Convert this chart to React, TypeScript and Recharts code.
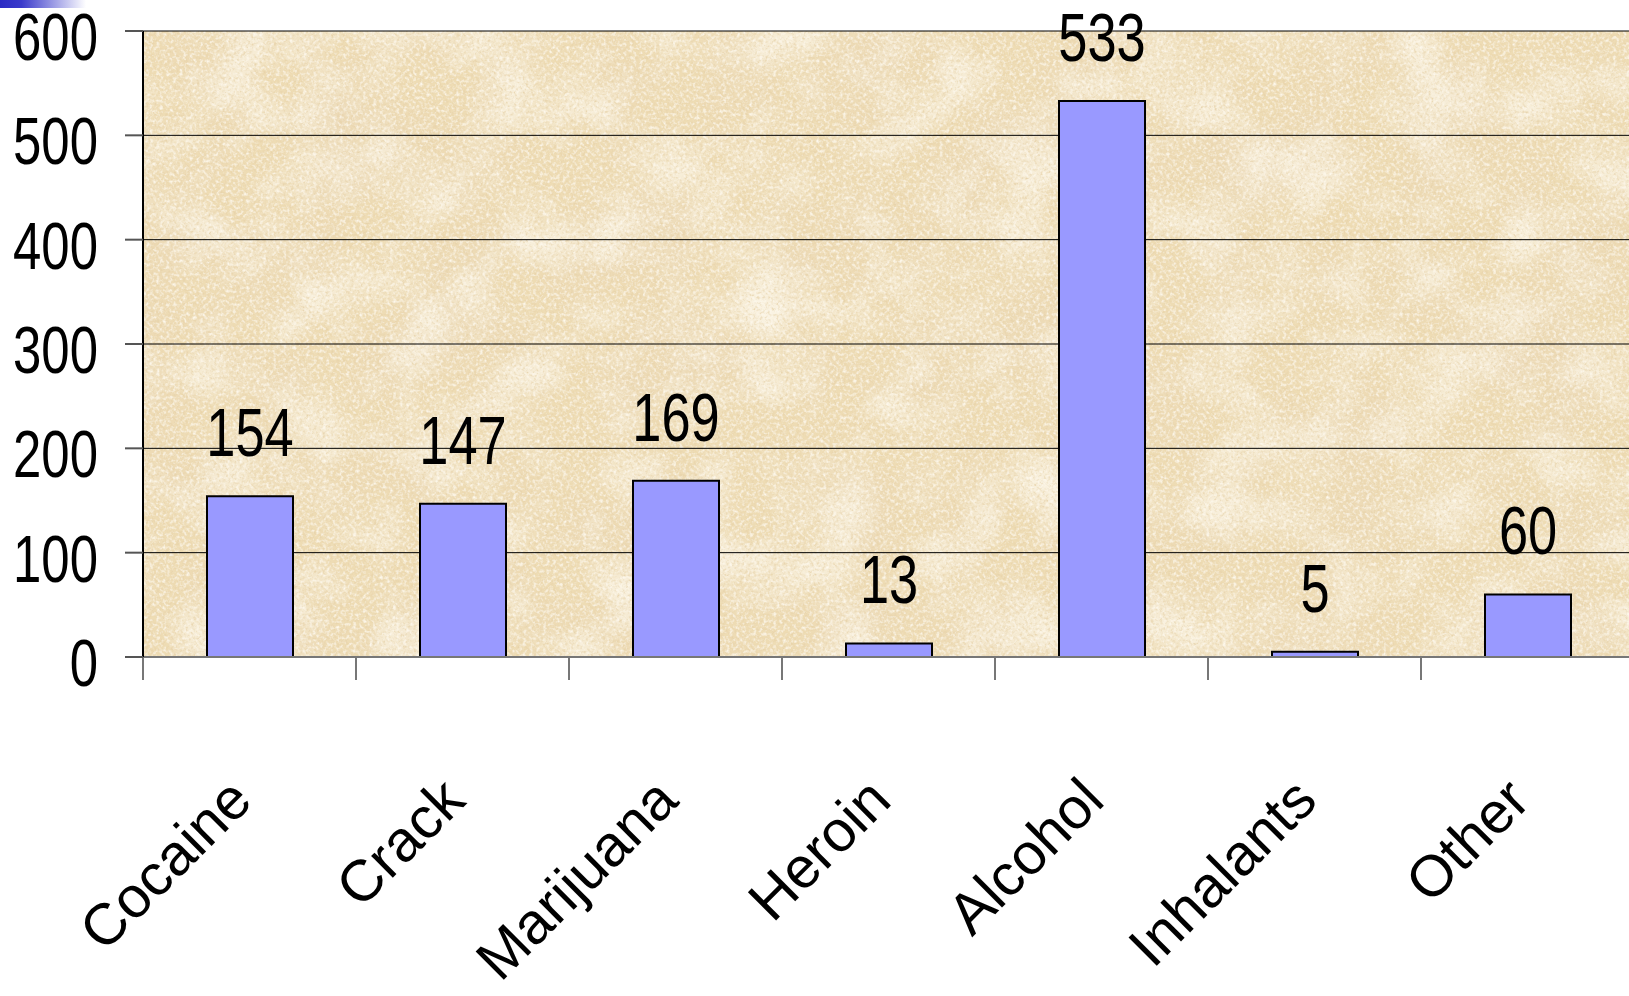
import React from 'react';
import { BarChart, Bar, XAxis, YAxis, CartesianGrid, LabelList } from 'recharts';

const categories = ['Cocaine', 'Crack', 'Marijuana', 'Heroin', 'Alcohol', 'Inhalants', 'Other'];
const values = [154, 147, 169, 13, 533, 5, 60];
const yTicks = [0, 100, 200, 300, 400, 500, 600];
const edgeTicks = [0, 1, 2, 3, 4, 5, 6, 7];

const data = categories.map((name, i) => ({ name, value: values[i], pos: i + 0.5 }));

const NUM_FONT = 'Liberation Sans, Arial, sans-serif';

const YTick = (props: any) => {
  const { x, y, payload } = props;
  return (
    <text
      transform={`translate(${x - 27}, ${y + 29}) scale(0.76, 1)`}
      textAnchor="end"
      fontFamily={NUM_FONT}
      fontSize={67}
      fill="#000"
    >
      {payload.value}
    </text>
  );
};

const XTick = (props: any) => {
  const { x, y, payload } = props;
  return (
    <text
      transform={`translate(${x + 5}, ${y + 145}) rotate(-45)`}
      textAnchor="end"
      fontFamily={NUM_FONT}
      fontSize={58}
      fill="#000"
    >
      {payload.value}
    </text>
  );
};

const EmptyTick = () => <g />;

const ValueLabel = (props: any) => {
  const { x, y, width, value } = props;
  return (
    <text
      transform={`translate(${x + width / 2}, ${y - 40}) scale(0.77, 1)`}
      textAnchor="middle"
      fontFamily={NUM_FONT}
      fontSize={68}
      fill="#000"
    >
      {value}
    </text>
  );
};

export default function App() {
  return (
    <div style={{ position: 'absolute', left: 0, top: 0, width: 1629, height: 996, overflow: 'hidden', background: '#fff' }}>
      <div
        style={{
          position: 'absolute',
          left: 0,
          top: 0,
          width: 86,
          height: 8,
          zIndex: 2,
          background: 'linear-gradient(to right, #2b2bc4 0%, #3a3acb 25%, #ffffff 100%)',
        }}
      />
      <BarChart
        width={1634}
        height={996}
        data={data}
        margin={{ top: 31, right: 0, bottom: 0, left: 0 }}
        style={{ position: 'absolute', left: 0, top: 0 }}
      >
        <defs>
          <filter id="grain" x="0" y="0" width="100%" height="100%">
            <feTurbulence type="fractalNoise" baseFrequency="0.35" numOctaves="3" seed="7" result="fine" />
            <feColorMatrix
              in="fine"
              type="matrix"
              values="0 0 0 0 0.80  0 0 0 0 0.65  0 0 0 0 0.40  2.2 0 0 0 -1.0"
              result="darkSpeck"
            />
            <feTurbulence type="fractalNoise" baseFrequency="0.3" numOctaves="2" seed="21" result="fine2" />
            <feColorMatrix
              in="fine2"
              type="matrix"
              values="0 0 0 0 0.99  0 0 0 0 0.95  0 0 0 0 0.86  2.2 0 0 0 -1.0"
              result="lightSpeck"
            />
            <feTurbulence type="fractalNoise" baseFrequency="0.01" numOctaves="4" seed="3" result="blotch" />
            <feColorMatrix
              in="blotch"
              type="matrix"
              values="0 0 0 0 0.84  0 0 0 0 0.70  0 0 0 0 0.48  1.8 0 0 0 -0.75"
              result="blotchC"
            />
            <feTurbulence type="fractalNoise" baseFrequency="0.015" numOctaves="3" seed="11" result="blotch2" />
            <feColorMatrix
              in="blotch2"
              type="matrix"
              values="0 0 0 0 0.97  0 0 0 0 0.92  0 0 0 0 0.80  1.8 0 0 0 -0.75"
              result="blotchL"
            />
            <feMerge>
              <feMergeNode in="SourceGraphic" />
              <feMergeNode in="blotchC" />
              <feMergeNode in="blotchL" />
              <feMergeNode in="darkSpeck" />
              <feMergeNode in="lightSpeck" />
            </feMerge>
          </filter>
          <pattern id="paper" patternUnits="userSpaceOnUse" x="0" y="0" width="1634" height="996">
            <rect x="0" y="0" width="1634" height="996" fill="#EEDCB4" filter="url(#grain)" />
          </pattern>
        </defs>
        <CartesianGrid vertical={false} stroke="#000" strokeWidth={1} fill="url(#paper)" fillOpacity={1} />
        <XAxis
          xAxisId="b_cat"
          dataKey="name"
          type="category"
          height={338}
          axisLine={false}
          tickLine={false}
          tickSize={0}
          tickMargin={0}
          interval={0}
          tick={<XTick />}
        />
        <XAxis
          xAxisId="a_edge"
          type="number"
          dataKey="pos"
          domain={[0, 7]}
          ticks={edgeTicks}
          interval={0}
          tick={<EmptyTick />}
          tickSize={23}
          height={1}
          axisLine={{ stroke: '#777', strokeWidth: 2 }}
          tickLine={{ stroke: '#777', strokeWidth: 2 }}
          allowDataOverflow
        />
        <YAxis
          width={143}
          domain={[0, 600]}
          ticks={yTicks}
          interval={0}
          tickSize={18}
          tickMargin={0}
          axisLine={{ stroke: '#000', strokeWidth: 2 }}
          tickLine={{ stroke: '#555', strokeWidth: 2 }}
          tick={<YTick />}
        />
        <Bar
          xAxisId="b_cat"
          dataKey="value"
          fill="#9999FF"
          stroke="#000"
          strokeWidth={2}
          barSize={86}
          isAnimationActive={false}
        >
          <LabelList dataKey="value" content={<ValueLabel />} />
        </Bar>
      </BarChart>
    </div>
  );
}
